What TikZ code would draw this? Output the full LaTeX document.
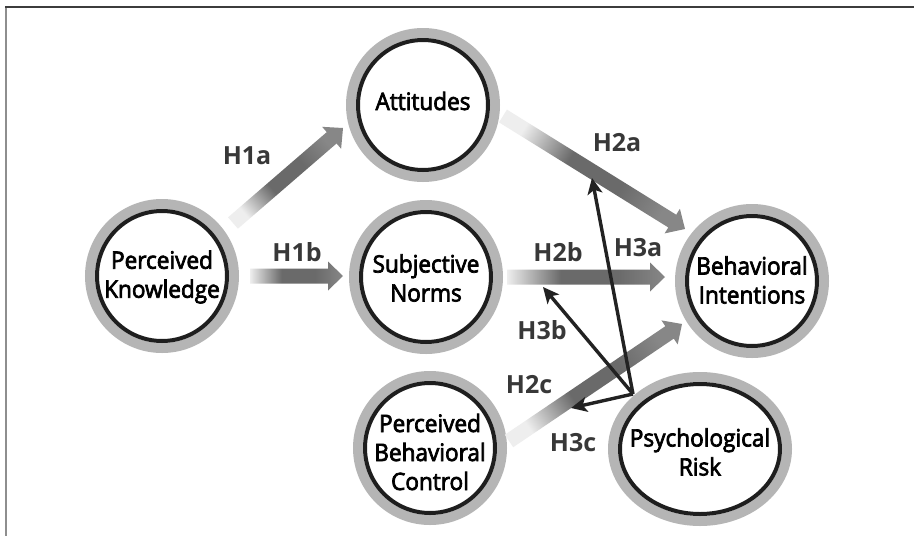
\documentclass[tikz,border=0pt]{standalone}
\usepackage{fontspec}
\setmainfont{Open Sans}
\newfontfamily\conceptfont{Open Sans}[FakeBold=3, FakeStretch=0.94]
\usetikzlibrary{arrows.meta,shapes.geometric,calc}
\definecolor{ringgray}{HTML}{B5B5B5}
\definecolor{ringdark}{HTML}{1E1E1E}
\definecolor{labelgray}{HTML}{383838}
\definecolor{thinline}{HTML}{222222}
\definecolor{framedark}{HTML}{3C3C3C}
\definecolor{framegray}{HTML}{8E8E8E}
\definecolor{ga}{HTML}{EEEEEE}
\definecolor{gb}{HTML}{6A6A6A}
\definecolor{gc}{HTML}{878787}
\pgfdeclarehorizontalshading{arrowgrad}{100bp}{color(0bp)=(ga); color(25bp)=(ga); color(42bp)=(gb); color(60bp)=(gb); color(75bp)=(gc); color(100bp)=(gc)}
\newcommand{\thickarrow}[2]{%
  \path (#1); \pgfgetlastxy{\tax}{\tay}%
  \path (#2); \pgfgetlastxy{\tbx}{\tby}%
  \pgfmathsetmacro{\tang}{atan2(\tby-\tay,\tbx-\tax)}%
  \pgfmathsetmacro{\tlen}{veclen(\tbx-\tax,\tby-\tay)}%
  \shade[shading=arrowgrad, shading angle=\tang]
    ([shift={(#1)},rotate=\tang]0,-7.5) --
    ([shift={(#1)},rotate=\tang]\tlen-15,-7.5) --
    ([shift={(#1)},rotate=\tang]\tlen-15,-14.5) --
    ([shift={(#1)},rotate=\tang]\tlen,0) --
    ([shift={(#1)},rotate=\tang]\tlen-15,14.5) --
    ([shift={(#1)},rotate=\tang]\tlen-15,7.5) --
    ([shift={(#1)},rotate=\tang]0,7.5) -- cycle;
}
\tikzset{
  concepttext/.style={align=center, inner sep=0pt, font=\conceptfont\fontsize{24}{29}\selectfont, text=black},
  blackring/.style={draw=ringdark, line width=4pt, fill=white},
  grayring/.style={draw=ringgray, line width=10pt},
  hlabel/.style={font=\bfseries\fontsize{25}{30}\selectfont, text=labelgray, inner sep=0pt},
  thinarrow/.style={draw=thinline, line width=3.4pt, -{Stealth[length=16pt,width=15pt,inset=4pt]}},
  frameline/.style={line width=2pt}
}
\begin{document}
\begin{tikzpicture}[x=1pt,y=-1pt]
\useasboundingbox (0,0) rectangle (914,536);
\fill[white] (0,0) rectangle (914,536);
% frame
\draw[frameline, draw=framegray] (5.5,7) -- (5.5,536);
\draw[frameline, draw=framedark] (5,7) -- (914,7);

% concept positions
\coordinate (pkc) at (162,276);
\coordinate (attc) at (423,105);
\coordinate (snc) at (426,277);
\coordinate (bic) at (752,281);
\coordinate (pbcc) at (430,448);
\coordinate (prc) at (700,449);

% rings
\foreach \c in {pkc,attc,snc,bic,pbcc}{
  \draw[grayring] (\c) circle[radius=72pt];
  \draw[blackring] (\c) circle[radius=65pt];
}
\draw[grayring] (prc) ellipse[x radius=87pt, y radius=72pt];
\draw[blackring] (prc) ellipse[x radius=80pt, y radius=65pt];

% texts
\node[concepttext] (pk) at (162,277) {Perceived\\Knowledge};
\node[concepttext] (att) at (423,101) {Attitudes};
\node[concepttext] (sn) at (426,278) {Subjective\\Norms};
\node[concepttext] (bi) at (752,280) {Behavioral\\Intentions};
\node[concepttext] (pbc) at (430,452) {Perceived\\Behavioral\\Control};
\node[concepttext] (pr) at (700,452) {Psychological\\Risk};

% thick arrow end points
\coordinate (h1a-s) at (233,223);
\coordinate (h1a-e) at (343,128);
\coordinate (h1b-s) at (250,276);
\coordinate (h1b-e) at (343,276);
\coordinate (h2a-s) at (503,116);
\coordinate (h2a-e) at (685,229);
\coordinate (h2b-s) at (507,277);
\coordinate (h2b-e) at (665,277);
\coordinate (h2c-s) at (509,441);
\coordinate (h2c-e) at (682,324);

\thickarrow{h1a-s}{h1a-e}
\thickarrow{h1b-s}{h1b-e}
\thickarrow{h2a-s}{h2a-e}
\thickarrow{h2b-s}{h2b-e}
\thickarrow{h2c-s}{h2c-e}

% thin arrows
\coordinate (h3o) at (633,394);
\coordinate (h3a-e) at (592,178);
\coordinate (h3b-e) at (543,287);
\coordinate (h3c-e) at (571,408);
\draw[thinarrow] (h3o) -- (h3a-e);
\draw[thinarrow] (h3o) -- (h3b-e);
\draw[thinarrow] (h3o) -- (h3c-e);

% labels
\node[hlabel] (l1a) at (247,156) {H1a};
\node[hlabel] (l1b) at (297,252) {H1b};
\node[hlabel] (l2a) at (617,143) {H2a};
\node[hlabel] (l2b) at (558,252) {H2b};
\node[hlabel] (l3a) at (638,248) {H3a};
\node[hlabel] (l3b) at (542,330) {H3b};
\node[hlabel] (l2c) at (529,385) {H2c};
\node[hlabel] (l3c) at (573,443) {H3c};
\end{tikzpicture}
\end{document}
